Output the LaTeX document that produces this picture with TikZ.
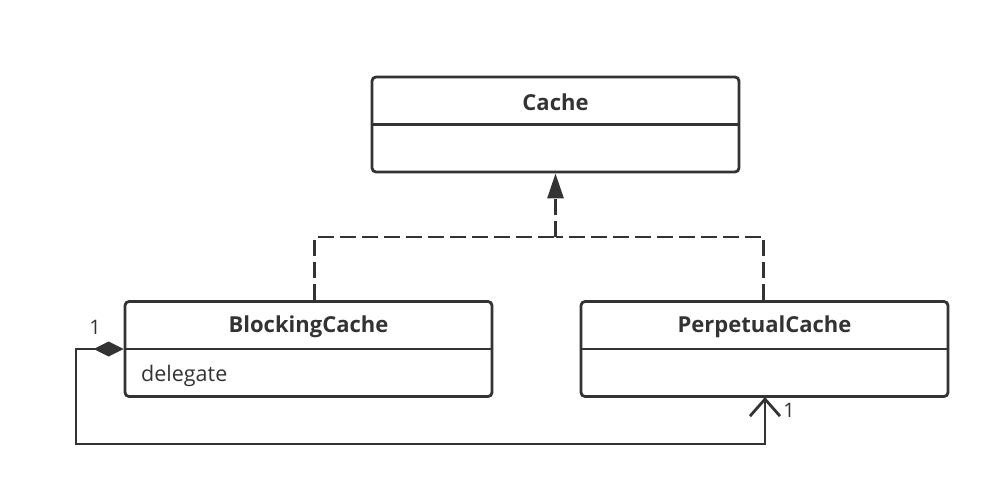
\documentclass[tikz,border=0pt]{standalone}
\usepackage{fontspec}
\setmainfont{Open Sans}
\usetikzlibrary{arrows.meta,calc}
\definecolor{ink}{HTML}{333333}
\tikzset{
  classbox/.style={draw=ink, line width=2.8pt, rounded corners=4pt, minimum width=367pt, minimum height=95pt, inner sep=0pt},
  title/.style={text=ink, font=\fontsize{22}{24}\selectfont\bfseries, inner sep=0pt, yshift=-2pt},
  attr/.style={text=ink, font=\fontsize{21.5}{24}\selectfont, inner sep=0pt, anchor=west},
  mult/.style={text=ink, font=\fontsize{20}{24}\selectfont, inner sep=0pt},
  divider/.style={draw=ink, line width=2.8pt},
  realize/.style={draw=ink, line width=2.8pt, dash pattern=on 16pt off 6pt},
  conn/.style={draw=ink, line width=2.8pt}
}
\begin{document}
\begin{tikzpicture}[x=1pt, y=-1pt]
\useasboundingbox (0,0) rectangle (999,495);
% classes
\node[classbox] (cache) at (555.5,124.5) {};
\node[classbox] (bc) at (308.5,349) {};
\node[classbox] (pc) at (764.5,349) {};
\draw[divider] (cache.west) -- (cache.east);
\draw[divider] (bc.west) -- (bc.east);
\draw[divider] (pc.west) -- (pc.east);
\node[title] (cachet) at ($(cache.north)!0.5!(cache.center)$) {Cache};
\node[title] (bct) at ($(bc.north)!0.5!(bc.center)$) {BlockingCache};
\node[title] (pct) at ($(pc.north)!0.5!(pc.center)$) {PerpetualCache};
\node[attr] (deleg) at (141,375.5) {delegate};
% realization
\coordinate (j) at (555.5,237);
\draw[realize] (bc.north west) ++(191,0) |- (j);
\draw[realize] (pc.north west) ++(184,0) |- (j);
\draw[realize, -{Triangle[length=25pt,width=16pt]}] (j) -- (cache.south);
% composition
\coordinate (loop) at (76,444);
\coordinate (pcin) at (765,397);
\draw[conn, {Diamond[length=30pt,width=15pt]}-{Straight Barb[length=17pt,width=30pt]}] (bc.west) -| (loop) -| (pcin);
\node[mult] (m1) at (95,327) {1};
\node[mult] (m2) at (789,410) {1};
\end{tikzpicture}
\end{document}
